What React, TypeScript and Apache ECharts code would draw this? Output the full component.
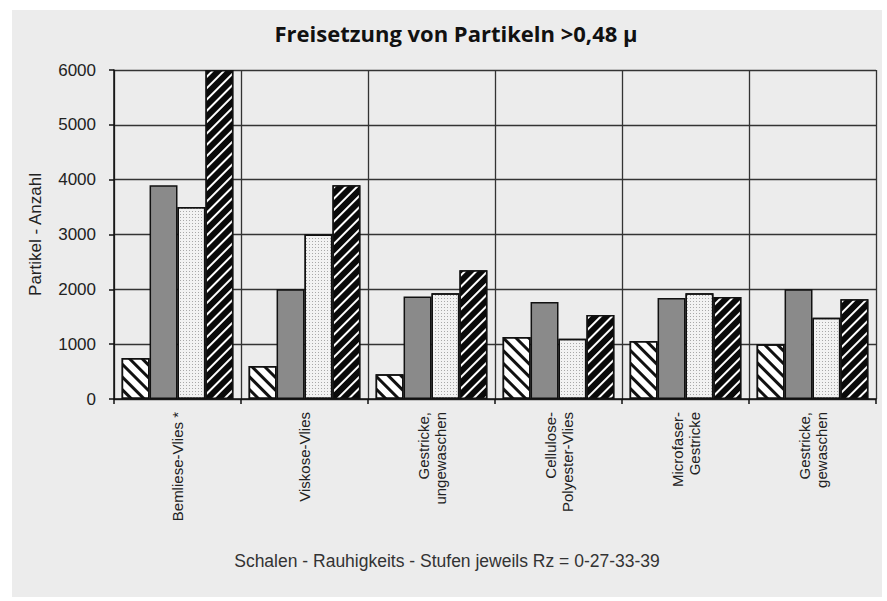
import React, { useEffect, useRef } from "react";
import * as echarts from "echarts";

const categories = [
  "Bemliese-Vlies *",
  "Viskose-Vlies",
  "Gestricke,\nungewaschen",
  "Cellulose-\nPolyester-Vlies",
  "Microfaser-\nGestricke",
  "Gestricke,\ngewaschen",
];
const seriesNames = ["Rz 0", "Rz 27", "Rz 33", "Rz 39"];
const rz0 = [750, 600, 450, 1130, 1060, 1000];
const rz27 = [3900, 2000, 1870, 1770, 1840, 2000];
const rz33 = [3500, 3000, 1930, 1100, 1930, 1480];
const rz39 = [6000, 3900, 2350, 1530, 1860, 1820];
const yMin = 0;
const yMax = 6000;
const yStep = 1000;

const titleText = "Freisetzung von Partikeln >0,48 \u00b5";
const yName = "Partikel - Anzahl";
const xName = "Schalen - Rauhigkeits - Stufen jeweils Rz = 0-27-33-39";

const FONT = "'Liberation Sans', Arial, sans-serif";

export default function App() {
  const ref = useRef<HTMLDivElement>(null);
  useEffect(() => {
    const chart = echarts.init(ref.current!, null, { renderer: "svg" });
    const border = { borderColor: "#111", borderWidth: 1.5 };
    chart.setOption({
      animation: false,
      backgroundColor: "#ececec",
      graphic: [
        {
          type: "text",
          x: 456 - 12,
          y: 33 - 10,
          style: {
            text: titleText,
            font: "bold 22px 'Open Sans', sans-serif",
            fill: "#111",
            textAlign: "center",
            textVerticalAlign: "middle",
          },
        },
        {
          type: "text",
          x: 447 - 12,
          y: 561 - 10,
          style: {
            text: xName,
            font: "17.5px " + FONT,
            fill: "#333",
            textAlign: "center",
            textVerticalAlign: "middle",
          },
        },
      ],
      grid: { left: 102, top: 60, right: 6, bottom: 198, containLabel: false },
      xAxis: {
        type: "category",
        data: categories,
        boundaryGap: true,
        axisLine: { lineStyle: { color: "#111", width: 1.5 } },
        axisTick: { show: true, interval: 0, length: 5, lineStyle: { color: "#111", width: 1.5 } },
        splitLine: { show: true, interval: 0, lineStyle: { color: "#333", width: 1.3 } },
        axisLabel: {
          interval: 0,
          rotate: 90,
          margin: 13,
          fontFamily: FONT,
          fontSize: 15,
          color: "#222",
          lineHeight: 17,
        },
      },
      yAxis: {
        type: "value",
        min: yMin,
        max: yMax,
        interval: yStep,
        name: yName,
        nameLocation: "middle",
        nameGap: 70,
        nameTextStyle: { fontFamily: FONT, fontSize: 17, color: "#222" },
        axisLine: { show: true, lineStyle: { color: "#111", width: 1.5 } },
        axisTick: { show: true, length: 5, lineStyle: { color: "#111", width: 1.5 } },
        splitLine: { show: true, lineStyle: { color: "#333", width: 1.3 } },
        axisLabel: {
          margin: 18,
          fontFamily: FONT,
          fontSize: 17,
          color: "#222",
          formatter: (v: number) => String(v),
        },
      },
      series: [
        {
          name: seriesNames[0],
          type: "bar",
          data: rz0,
          barGap: "0%",
          barCategoryGap: "12%",
          itemStyle: {
            color: "#ffffff",
            ...border,
            decal: {
              symbol: "rect",
              symbolSize: 1,
              color: "#111",
              dashArrayX: [1, 0],
              dashArrayY: [2.5, 5.5],
              rotation: Math.PI / 4,
            },
          },
        },
        {
          name: seriesNames[1],
          type: "bar",
          data: rz27,
          barGap: "0%",
          barCategoryGap: "12%",
          itemStyle: { color: "#8a8a8a", ...border },
        },
        {
          name: seriesNames[2],
          type: "bar",
          data: rz33,
          barGap: "0%",
          barCategoryGap: "12%",
          itemStyle: {
            color: "#f2f2f2",
            ...border,
            decal: {
              symbol: "rect",
              symbolSize: 1,
              color: "#a8a8a8",
              dashArrayX: [1, 2],
              dashArrayY: [1, 2],
              rotation: 0,
            },
          },
        },
        {
          name: seriesNames[3],
          type: "bar",
          data: rz39,
          barGap: "0%",
          barCategoryGap: "12%",
          itemStyle: {
            color: "#0a0a0a",
            ...border,
            decal: {
              symbol: "rect",
              symbolSize: 1,
              color: "#ffffff",
              dashArrayX: [1, 0],
              dashArrayY: [2, 6],
              rotation: -Math.PI / 4,
            },
          },
        },
      ],
    });
    return () => chart.dispose();
  }, []);
  return (
    <div style={{ position: "absolute", left: 0, top: 0, width: 887, height: 601, background: "#fff" }}>
      <div ref={ref} style={{ position: "absolute", left: 12, top: 10, width: 870, height: 587 }} />
    </div>
  );
}
